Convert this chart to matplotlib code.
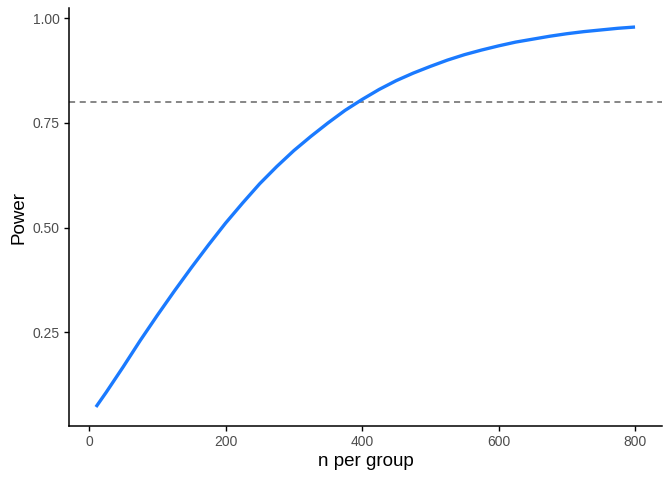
import numpy as np
import matplotlib
matplotlib.use("Agg")
import matplotlib.pyplot as plt

# values
n_per_group = [10, 25, 50, 75, 100, 125, 150, 175, 200, 225, 250, 275, 300,
               325, 350, 375, 400, 425, 450, 475, 500, 525, 550, 575, 600,
               625, 650, 675, 700, 725, 750, 775, 800]
power = [0.072, 0.107, 0.168, 0.231, 0.291, 0.349, 0.405, 0.459, 0.511,
         0.559, 0.605, 0.646, 0.684, 0.718, 0.750, 0.780, 0.806, 0.830,
         0.851, 0.869, 0.885, 0.900, 0.913, 0.924, 0.934, 0.943, 0.950,
         0.957, 0.963, 0.968, 0.972, 0.976, 0.979]
target = 0.8
xticks = [0, 200, 400, 600, 800]
yticks = [0.25, 0.50, 0.75, 1.00]

plt.rcParams['font.family'] = ['Liberation Sans', 'DejaVu Sans']

fig = plt.figure(figsize=(6.72, 4.8), dpi=100)
ax = fig.add_axes([69/672, 1-426/480, (662-69)/672, (426-8)/480])

ax.axhline(target, color='#666666', lw=1.1, ls=(0, (4, 3)))
ax.plot(n_per_group, power, color='#1a7aff', lw=2.4, solid_capstyle='butt',
        solid_joinstyle='round')

ax.set_xlim(-29.5, 839.5)
ax.set_ylim(0.0266, 1.0244)
ax.set_xticks(xticks)
ax.set_xticklabels([str(v) for v in xticks])
ax.set_yticks(yticks)
ax.set_yticklabels(['%.2f' % v for v in yticks])

for s in ['top', 'right']:
    ax.spines[s].set_visible(False)
for s in ['left', 'bottom']:
    ax.spines[s].set_linewidth(1.1)
ax.tick_params(length=3.5, width=1.0, color='black', labelsize=10,
               labelcolor='#4d4d4d', pad=3)
ax.set_xlabel('n per group', fontsize=13.5, labelpad=3)
ax.set_ylabel('Power', fontsize=13.5, labelpad=4)

fig.savefig('out.png', dpi=100)
